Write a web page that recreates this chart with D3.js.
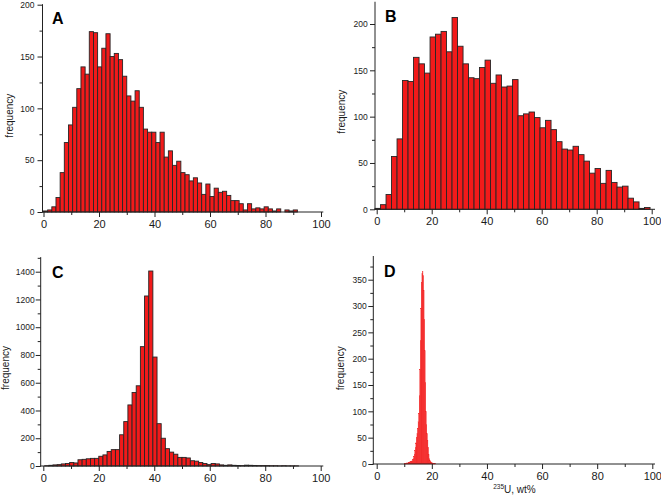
<!DOCTYPE html>
<html><head><meta charset="utf-8">
<script src="https://cdn.jsdelivr.net/npm/d3@7"></script>
<style>body{margin:0;background:#fff}svg{display:block}</style>
</head><body>
<svg id="chart" width="661" height="499"></svg>
<script>
// ---------- data ----------
const xTicks = [0, 20, 40, 60, 80, 100];
const xMinorTicks = [10, 30, 50, 70, 90];

// Panel A: bins of width 1.5 starting at 0
const binStartA = 0, binWidthA = 1.5;
const freqA = [1,2,5,14,38,67,84,101,119,140,133,174,173,140,158,172,150,153,147,131,112,107,117,101,
  80,77,77,67,77,53,59,45,49,38,36,30,33,28,17,27,15,23,19,20,16,11,11,8,2,8,3,4,3,5,3,1,3,0,2,1,2];
const yTicksA = [0, 50, 100, 150, 200];
const yMinorA = [25, 75, 125, 175];

// Panel B: bins of width 2
const binStartB = -0.6, binWidthB = 2;
const freqB = [1,5,16,57,76,139,138,164,157,147,186,189,192,170,207,176,157,142,141,153,
  161,136,145,132,133,140,101,103,105,99,88,96,86,73,65,64,68,59,52,39,
  44,28,42,29,24,25,12,8,1,2];
const yTicksB = [0, 50, 100, 150, 200];
const yMinorB = [25, 75, 125, 175];

// Panel C: bins of width 1.5 starting at 0.5
const binStartC = 0.5, binWidthC = 1.5;
const freqC = [2,5,8,10,15,18,25,22,45,48,52,55,55,70,80,105,118,118,225,320,440,530,578,860,1225,1405,
  785,305,200,125,100,85,62,62,58,38,35,25,18,10,18,15,8,5,8,5,4,3,6,5,4,3,3,3,2,2,1,2,1,1,1];
const yTicksC = [0, 200, 400, 600, 800, 1000, 1200, 1400];
const yMinorC = [100, 300, 500, 700, 900, 1100, 1300, 1500];

// Panel D: fine bins of width 0.2 starting at 10
const binStartD = 10, binWidthD = 0.2;
const freqD = [1,1,1,1,2,2,2,3,3,3,4,4,5,5,6,8,10,14,19,25,32,40,50,58,68,80,96,130,180,235,
  295,345,362,365,358,330,275,215,155,100,75,58,45,32,18,10,7,5,4,3,2,2,1,1,1,1,1];
const yTicksD = [0, 50, 100, 150, 200, 250, 300, 350];
const yMinorD = [25, 75, 125, 175, 225, 275, 325, 375];

const panelLabels = ["A", "B", "C", "D"];
const yTitle = "frequency";

// ---------- layout ----------
const panels = [
  {label: panelLabels[0], data: freqA, start: binStartA, bw: binWidthA, yTicks: yTicksA, yMinor: yMinorA,
   x0: 43.5, x1: 321, axisX: 42.5, xEnd: 323.3, y0: 212, yRef: 200, yRefPx: 4.7, yTopVal: 200.5,
   gap: 3, lx: 52, ly: 23.5, tx: 13, ty: 115.7, outline: true},
  {label: panelLabels[1], data: freqB, start: binStartB, bw: binWidthB, yTicks: yTicksB, yMinor: yMinorB,
   x0: 376.7, x1: 651.7, axisX: 375, xEnd: 655, y0: 209.3, yRef: 200, yRefPx: 24, yTopVal: 224,
   gap: 2.3, lx: 385, ly: 22, tx: 344.5, ty: 111.7, outline: true},
  {label: panelLabels[2], data: freqC, start: binStartC, bw: binWidthC, yTicks: yTicksC, yMinor: yMinorC,
   x0: 43.3, x1: 320.7, axisX: 40.7, xEnd: 323.3, y0: 466, yRef: 1400, yRefPx: 271.7, yTopVal: 1505,
   gap: 1, lx: 52, ly: 277.5, tx: 9, ty: 368, outline: true},
  {label: panelLabels[3], data: freqD, start: binStartD, bw: binWidthD, yTicks: yTicksD, yMinor: yMinorD,
   x0: 376.7, x1: 652.3, axisX: 373.3, xEnd: 655, y0: 464, yRef: 350, yRefPx: 279.7, yTopVal: 395,
   gap: 1.6, lx: 384, ly: 277, tx: 344, ty: 368.3, outline: false, xTitle: true}
];

const svg = d3.select("#chart");
const FONT = "'Liberation Sans', Arial, sans-serif";
const RED = "#f21a1a";
const AX = "#222";
const fmt = d3.format("d");

panels.forEach(p => {
  const x = d3.scaleLinear().domain([0, 100]).range([p.x0, p.x1]);
  const y = d3.scaleLinear().domain([0, p.yRef]).range([p.y0, p.yRefPx]);
  const g = svg.append("g");

  // bars
  const bars = p.data.map((v, i) => ({x: p.start + i * p.bw, v})).filter(d => d.v > 0);
  g.append("g").selectAll("rect").data(bars).join("rect")
    .attr("x", d => x(d.x))
    .attr("width", x(p.bw) - x(0))
    .attr("y", d => y(d.v))
    .attr("height", d => p.y0 - y(d.v))
    .attr("fill", RED)
    .attr("stroke", p.outline ? "#262626" : RED)
    .attr("stroke-width", p.outline ? 0.9 : 0.25);

  // y axis
  const ya = g.append("g").attr("transform", `translate(${p.axisX},0)`)
    .call(d3.axisLeft(y).tickValues(p.yTicks).tickSize(5).tickPadding(p.gap).tickFormat(fmt));
  ya.select(".domain").remove();
  ya.selectAll("line").attr("stroke", AX);
  ya.selectAll("text").attr("font-family", FONT).attr("font-size", 8.5).attr("fill", "#1a1a1a");
  const ym = g.append("g").attr("transform", `translate(${p.axisX},0)`)
    .call(d3.axisLeft(y).tickValues(p.yMinor.filter(v => v <= p.yTopVal)).tickSize(3).tickFormat(""));
  ym.select(".domain").remove();
  ym.selectAll("line").attr("stroke", AX);

  // x axis
  const xa = g.append("g").attr("transform", `translate(0,${p.y0})`)
    .call(d3.axisBottom(x).tickValues(xTicks).tickSize(5).tickPadding(2.7).tickFormat(fmt));
  xa.select(".domain").remove();
  xa.selectAll("line").attr("stroke", AX);
  xa.selectAll("text").attr("font-family", FONT).attr("font-size", 11).attr("fill", "#1a1a1a");
  const xm = g.append("g").attr("transform", `translate(0,${p.y0})`)
    .call(d3.axisBottom(x).tickValues(xMinorTicks).tickSize(3).tickFormat(""));
  xm.select(".domain").remove();
  xm.selectAll("line").attr("stroke", AX);

  // axis lines
  g.append("line").attr("x1", p.axisX).attr("x2", p.axisX)
    .attr("y1", y(p.yTopVal)).attr("y2", p.y0 + 0.5).attr("stroke", AX).attr("stroke-width", 1);
  g.append("line").attr("x1", p.axisX - 0.5).attr("x2", p.xEnd)
    .attr("y1", p.y0).attr("y2", p.y0).attr("stroke", AX).attr("stroke-width", 1);

  // panel letter
  g.append("text").attr("x", p.lx).attr("y", p.ly).text(p.label)
    .attr("font-family", FONT).attr("font-weight", "bold").attr("font-size", 16).attr("fill", "#000");

  // y title
  g.append("text").attr("transform", `translate(${p.tx},${p.ty}) rotate(-90)`)
    .attr("text-anchor", "middle").attr("font-family", FONT).attr("font-size", 10)
    .attr("fill", "#1a1a1a").text(yTitle);

  if (p.xTitle) {
    const t = g.append("text").attr("x", (p.x0 + p.x1) / 2).attr("y", 493)
      .attr("text-anchor", "middle").attr("font-family", FONT).attr("font-size", 10).attr("fill", "#1a1a1a");
    t.append("tspan").attr("font-size", 6.5).attr("dy", -4).text("235");
    t.append("tspan").attr("dy", 4).text("U, wt%");
  }
});
</script>
</body></html>
